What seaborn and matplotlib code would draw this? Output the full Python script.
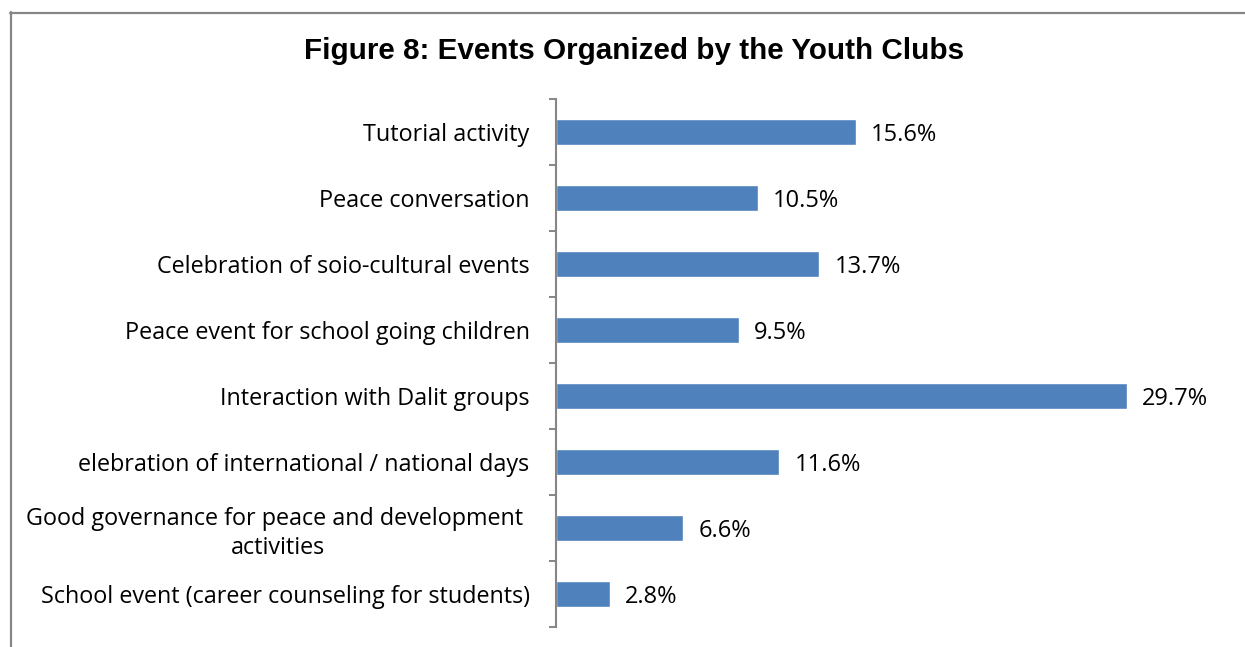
import matplotlib
matplotlib.use("Agg")
import matplotlib.pyplot as plt
from matplotlib.lines import Line2D
import seaborn as sns
import pandas as pd

categories = [
    "Tutorial activity",
    "Peace conversation",
    "Celebration of soio-cultural events",
    "Peace event for school going children",
    "Interaction with Dalit groups",
    "elebration of international / national days",
    "Good governance for peace and development \nactivities",
    "School event (career counseling for students)",
]
values = [15.6, 10.5, 13.7, 9.5, 29.7, 11.6, 6.6, 2.8]
title = "Figure 8: Events Organized by the Youth Clubs"

df = pd.DataFrame({"event": categories, "pct": values})

sns.set_style("white")
plt.rcParams["font.family"] = ["Open Sans", "DejaVu Sans"]

W, H = 1245, 647
fig = plt.figure(figsize=(W / 100, H / 100), dpi=100)
ax = fig.add_axes([556 / W, 1 - 627 / H, (1229 - 556) / W, (627 - 99) / H])

sns.barplot(data=df, y="event", x="pct", orient="h", color="#4F81BD",
            saturation=1, width=0.39, ax=ax)

ax.set_xlim(0, 35)
ax.set_ylim(len(categories) - 0.5, -0.5)
ax.set_xlabel("")
ax.set_ylabel("")
ax.set_xticks([])

# category ticks sit on the band boundaries, labels centred on the bars
ax.set_yticks([i - 0.5 for i in range(len(categories) + 1)], minor=False)
ax.set_yticklabels([])
ax.set_yticks(range(len(categories)), minor=True)
ax.set_yticklabels(categories, minor=True, fontsize=16.8, color="#000000",
                   ha="right", multialignment="center", linespacing=1.3)
ax.tick_params(axis="y", which="major", left=True, length=5, width=1.4,
               color="#868686", direction="out")
ax.tick_params(axis="y", which="minor", left=False, length=0, pad=19)

for side in ["top", "right", "bottom"]:
    ax.spines[side].set_visible(False)
ax.spines["left"].set_color("#868686")
ax.spines["left"].set_linewidth(1.5)

value_labels = ax.bar_label(ax.containers[0], labels=[f"{v:.1f}%" for v in values],
                            padding=11, fontsize=17, color="#000000")
for lbl in value_labels:
    lbl.xyann = (11, -2)

fig.text(634 / W, 1 - 51 / H, title, ha="center", va="center", color="#000000",
         fontsize=21.3, fontweight="bold", family="Liberation Sans")

# chart frame (left and top edges)
fig.add_artist(Line2D([11 / W, 11 / W], [0, 1 - 12 / H], transform=fig.transFigure,
                      color="#868686", linewidth=1.6))
fig.add_artist(Line2D([10 / W, 1], [1 - 12.5 / H, 1 - 12.5 / H], transform=fig.transFigure,
                      color="#868686", linewidth=1.6))

fig.savefig("out.png", dpi=100, facecolor="white")
